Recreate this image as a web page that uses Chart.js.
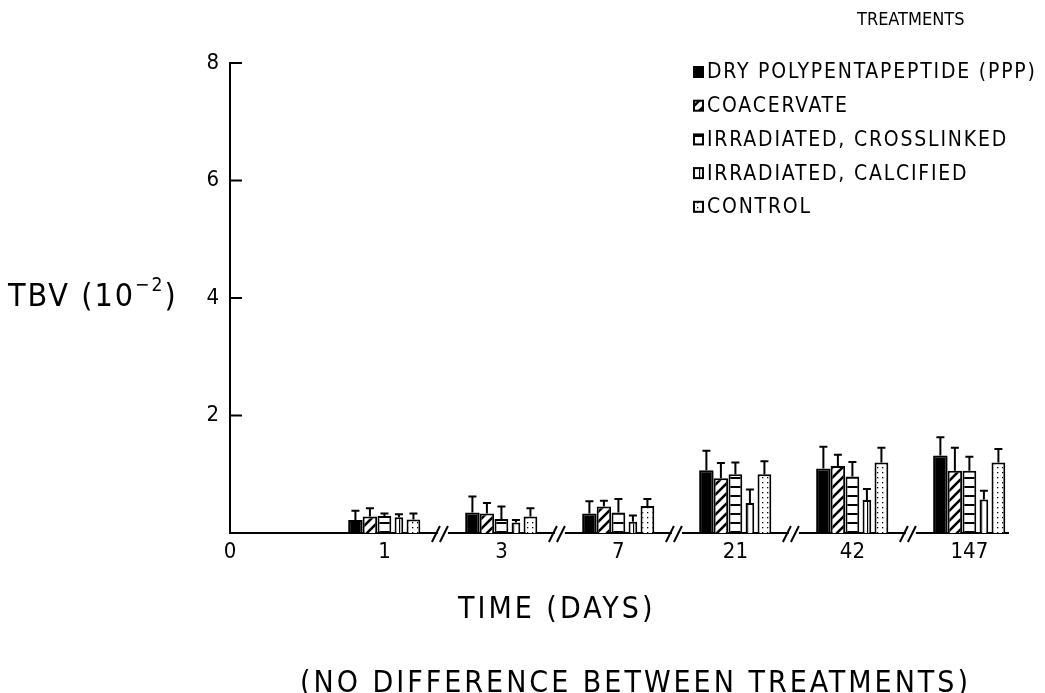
<!DOCTYPE html>
<html>
<head>
<meta charset="utf-8">
<script src="https://cdn.jsdelivr.net/npm/chart.js@4"></script>
<style>
  body { margin: 0; background: #fff; }
  #wrap { position: relative; width: 1045px; height: 693px; overflow: hidden; }
  .lbl { position: absolute; font-family: "DejaVu Sans Condensed", "DejaVu Sans", sans-serif; color: #000; white-space: nowrap; line-height: 1.2; }
  sup { font-size: 0.6em; position: relative; top: -0.15em; }
</style>
</head>
<body>
<div id="wrap">
  <canvas id="chart" width="1045" height="693"></canvas>
  <div class="lbl" style="left:8px; top:276px; font-size:32px; letter-spacing:2px;">TBV (10<sup>−2</sup>)</div>
  <div class="lbl" style="left:857px; top:8px; font-size:18px;">TREATMENTS</div>
  <div class="lbl" style="left:458px; top:590px; font-size:30px; letter-spacing:3px;">TIME (DAYS)</div>
  <div class="lbl" style="left:300px; top:664px; font-size:30px; letter-spacing:3px;">(NO DIFFERENCE BETWEEN TREATMENTS)</div>
</div>
<script>
// days after implantation (x categories)
const days      = ["1", "3", "7", "21", "42", "147"];
const xTickText = ["0", "1", "3", "7", "21", "42", "147"];
const yTicks    = [2, 4, 6, 8];

const treatments = [
  "DRY POLYPENTAPEPTIDE (PPP)",
  "COACERVATE",
  "IRRADIATED, CROSSLINKED",
  "IRRADIATED, CALCIFIED",
  "CONTROL",
];

// TBV (10^-2)
const dryPPP      = [0.22, 0.35, 0.33, 1.07, 1.10, 1.32];
const coacervate  = [0.28, 0.33, 0.45, 0.93, 1.14, 1.06];
const crosslinked = [0.29, 0.24, 0.35, 1.00, 0.96, 1.06];
const calcified   = [0.27, 0.18, 0.19, 0.51, 0.56, 0.57];
const control     = [0.23, 0.28, 0.46, 1.00, 1.20, 1.20];

// upper error bar (SD)
const dryErr         = [0.16, 0.27, 0.21, 0.33, 0.37, 0.31];
const coacervateErr  = [0.14, 0.18, 0.10, 0.26, 0.19, 0.39];
const crosslinkedErr = [0.04, 0.21, 0.23, 0.20, 0.25, 0.24];
const calcifiedErr   = [0.05, 0.04, 0.11, 0.23, 0.19, 0.15];
const controlErr     = [0.10, 0.14, 0.12, 0.22, 0.25, 0.23];

const FONT = "'DejaVu Sans Condensed', 'DejaVu Sans', sans-serif";

function makePattern(kind) {
  const c = document.createElement("canvas");
  const g = c.getContext("2d");
  if (kind === "hatch") {
    c.width = c.height = 10;
    g.fillStyle = "#fff"; g.fillRect(0, 0, 10, 10);
    g.strokeStyle = "#000"; g.lineWidth = 2.6;
    g.beginPath();
    g.moveTo(-2, 12); g.lineTo(12, -2);
    g.moveTo(-2, 2);  g.lineTo(2, -2);
    g.moveTo(8, 12);  g.lineTo(12, 8);
    g.stroke();
  } else if (kind === "hstripe") {
    c.width = 4; c.height = 9;
    g.fillStyle = "#fff"; g.fillRect(0, 0, 4, 9);
    g.fillStyle = "#000"; g.fillRect(0, 0, 4, 2);
  } else if (kind === "vline") {
    c.width = 6; c.height = 6;
    g.fillStyle = "#fff"; g.fillRect(0, 0, 6, 6);
    g.fillStyle = "#000"; g.fillRect(3, 0, 1.2, 6);
  } else if (kind === "dots") {
    c.width = c.height = 5;
    g.fillStyle = "#fff"; g.fillRect(0, 0, 5, 5);
    g.fillStyle = "#000"; g.fillRect(2, 2, 1.3, 1.3);
  }
  return g.createPattern(c, "repeat");
}

const fills = ["#000", makePattern("hatch"), makePattern("hstripe"), makePattern("vline"), makePattern("dots")];
const series = [dryPPP, coacervate, crosslinked, calcified, control];
const errors = [dryErr, coacervateErr, crosslinkedErr, calcifiedErr, controlErr];
const barPct = [1.0, 1.0, 0.95, 0.6, 0.95];

const toPoints = vals => vals.map((v, i) => ({ x: i + 1, y: v }));

const datasets = series.map((vals, k) => ({
  label: treatments[k],
  data: toPoints(vals),
  err: errors[k],
  backgroundColor: fills[k],
  borderColor: "#000",
  borderWidth: 2,
  borderSkipped: "bottom",
  categoryPercentage: 0.62,
  barPercentage: barPct[k],
}));

// error bars, inward y ticks, axis breaks, legend
const decorations = {
  id: "decorations",
  afterDatasetsDraw(chart) {
    const ctx = chart.ctx, y = chart.scales.y;
    ctx.save();
    ctx.strokeStyle = "#000";
    ctx.lineWidth = 2;
    chart.data.datasets.forEach((ds, k) => {
      chart.getDatasetMeta(k).data.forEach((bar, i) => {
        const top = y.getPixelForValue(ds.data[i].y + ds.err[i]);
        ctx.beginPath();
        ctx.moveTo(bar.x, bar.y);
        ctx.lineTo(bar.x, top);
        ctx.moveTo(bar.x - 4, top);
        ctx.lineTo(bar.x + 4, top);
        ctx.stroke();
      });
    });
    ctx.restore();
  },
  afterDraw(chart) {
    const ctx = chart.ctx, x = chart.scales.x, y = chart.scales.y;
    const area = chart.chartArea;
    ctx.save();
    ctx.strokeStyle = "#000";
    ctx.lineWidth = 2;
    // inward y ticks
    yTicks.forEach(v => {
      const py = y.getPixelForValue(v);
      ctx.beginPath();
      ctx.moveTo(area.left, py);
      ctx.lineTo(area.left + 12, py);
      ctx.stroke();
    });
    // axis breaks between time points
    for (let i = 1; i < days.length; i++) {
      const px = x.getPixelForValue(i + 0.5);
      const py = area.bottom;
      ctx.fillStyle = "#fff";
      ctx.fillRect(px - 5, py - 3, 10, 6);
      ctx.beginPath();
      ctx.moveTo(px - 11, py + 9); ctx.lineTo(px - 3, py - 7);
      ctx.moveTo(px - 3, py + 9);  ctx.lineTo(px + 5, py - 7);
      ctx.stroke();
    }
    // legend
    ctx.font = "21px " + FONT;
    ctx.letterSpacing = "1.8px";
    ctx.textBaseline = "middle";
    chart.data.datasets.forEach((ds, k) => {
      const ry = 72 + k * 33.7;
      ctx.fillStyle = ds.backgroundColor;
      ctx.fillRect(694, ry - 5, 9, 10);
      ctx.lineWidth = 2;
      ctx.strokeRect(694, ry - 5, 9, 10);
      ctx.fillStyle = "#000";
      ctx.fillText(ds.label, 707, ry + 1);
    });
    ctx.restore();
  },
};

new Chart(document.getElementById("chart"), {
  type: "bar",
  data: { datasets },
  plugins: [decorations],
  options: {
    responsive: false,
    animation: false,
    layout: { padding: { top: 63, right: 37, bottom: 120, left: 0 } },
    plugins: { legend: { display: false }, tooltip: { enabled: false } },
    scales: {
      x: {
        type: "linear",
        offset: false,
        min: -0.32,
        max: 6.33,
        afterFit: s => { s.height = 40; },
        afterBuildTicks: s => { s.ticks = [s.min, 1, 2, 3, 4, 5, 6].map(v => ({ value: v })); },
        grid: { display: false, drawTicks: false },
        border: { display: true, color: "#000", width: 2 },
        ticks: {
          padding: 6,
          color: "#000",
          font: { family: FONT, size: 22 },
          maxRotation: 0,
          autoSkip: false,
          callback: (v, i) => xTickText[i],
        },
      },
      y: {
        min: 0,
        max: 8,
        afterFit: s => { s.width = 230; },
        grid: { display: false, drawTicks: false },
        border: { display: true, color: "#000", width: 2 },
        ticks: {
          stepSize: 2,
          padding: 11,
          color: "#000",
          font: { family: FONT, size: 22 },
          callback: v => (yTicks.includes(v) ? String(v) : ""),
        },
      },
    },
  },
});
</script>
</body>
</html>
